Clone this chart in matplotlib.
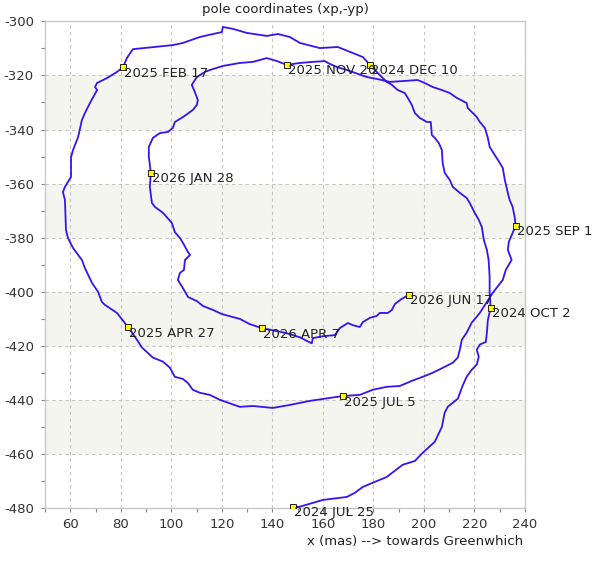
import matplotlib
matplotlib.use("Agg")
import matplotlib.pyplot as plt
from matplotlib.ticker import MultipleLocator

plt.rcParams["axes.unicode_minus"] = False

# ---- data (mas) ----
xp = [148.1, 150.9, 160.0, 169.5, 172.6, 175.8, 185.3, 191.6, 196.4, 199.5, 204.3, 207.1, 208.2, 209.4,
      213.4, 215.3, 216.9, 218.9, 220.9, 221.7, 220.9, 222.1, 224.5, 224.9, 225.3, 226.4,
      226.0, 226.0, 225.6, 224.9, 223.7, 222.9, 221.7, 220.1, 218.1, 216.9, 214.2, 211.4, 210.2, 208.2,
      207.4, 207.1, 205.9, 204.3, 203.1, 202.7, 201.1, 198.3, 196.4, 195.2, 193.6, 192.4, 189.6, 187.3,
      185.3, 183.3, 179.8, 178.6,
      175.8, 170.7, 165.9, 158.8, 150.9, 146.9, 142.2, 137.8, 129.9, 124.4, 120.4, 120.0, 116.5, 111.3,
      104.6, 100.6, 84.8, 82.4, 80.9,
      78.5, 74.5, 70.6, 69.8, 70.6, 67.8, 65.8, 64.6, 63.1, 61.1, 60.3, 60.3, 57.9, 57.1, 57.9, 58.3,
      59.1, 61.1, 64.6, 65.8, 68.6, 71.0, 72.5, 73.7, 78.5, 81.6, 82.8,
      85.6, 88.4, 92.7, 96.7, 99.4, 101.4, 104.6, 106.6, 108.5, 111.3, 115.3, 119.2, 127.1, 132.3,
      140.2, 146.9, 154.8, 160.0, 167.9,
      174.6, 179.7, 185.3, 190.4, 195.2, 199.5, 203.5, 207.4, 211.4, 213.4, 214.2, 215.0, 216.9, 218.9,
      222.1, 227.2, 231.2, 232.4, 234.7, 233.2, 233.6, 235.1, 236.3,
      235.9, 235.1, 233.9, 233.2, 232.0, 231.2, 230.0, 228.0, 226.0, 225.3, 224.1, 222.1, 220.9, 217.3,
      216.9, 213.0, 210.2, 207.1, 203.5, 200.3, 197.5, 191.6, 186.5, 181.3, 177.4, 169.5, 165.5, 162.0,
      160.8, 156.0, 150.9, 145.7,
      141.8, 137.8, 132.3, 127.1, 120.4, 115.3, 113.3, 110.1, 108.1, 109.3, 110.5, 110.1, 108.5, 104.6,
      101.4, 100.6, 98.7, 95.5, 92.7, 91.1, 91.1, 91.9,
      91.5, 92.3, 93.5, 96.7, 100.2, 101.4, 103.4, 104.6, 106.6, 107.4, 105.4, 105.0, 103.4, 102.6,
      104.6, 106.6, 110.1, 112.5, 116.5, 120.0, 124.4, 127.1, 131.0, 135.8,
      140.2, 145.7, 150.9, 154.0, 155.6, 156.0, 160.0, 164.7, 166.7, 169.9, 171.8, 174.6, 175.8, 178.6,
      181.3, 182.5, 185.7, 187.3, 188.5, 191.2, 194.0]

yp = [-479.5, -479.4, -476.9, -475.8, -474.3, -472.1, -468.4, -463.9, -462.5, -459.5, -455.4, -449.9, -444.7, -442.5,
      -439.5, -434.7, -431.4, -428.8, -426.9, -424.0, -421.4, -419.5, -418.5, -415.2, -410.4, -405.9,
      -400.4, -394.5, -388.2, -384.5, -380.8, -376.0, -373.4, -370.8, -367.1, -365.3, -363.4, -361.2, -358.6, -356.0,
      -352.3, -347.6, -345.0, -343.1, -342.0, -337.2, -337.2, -335.7, -333.9, -330.9, -328.3, -326.5, -325.4, -323.5,
      -322.4, -320.6, -317.3, -316.1,
      -313.2, -311.3, -309.5, -309.9, -308.0, -305.8, -304.7, -305.4, -304.3, -302.8, -302.1, -304.0, -304.7, -305.8,
      -308.0, -308.8, -310.3, -313.6, -316.9,
      -318.7, -321.0, -322.8, -324.3, -325.4, -330.2, -333.9, -336.5, -342.8, -347.6, -350.2, -357.5, -361.2, -363.1, -366.1, -377.1,
      -380.1, -383.8, -388.2, -391.2, -396.7, -400.0, -403.7, -404.8, -407.8, -411.5, -413.0,
      -416.6, -420.6, -424.3, -425.8, -428.0, -431.4, -432.2, -433.7, -436.2, -437.3, -438.1, -439.9, -442.5, -442.2,
      -442.9, -441.8, -440.3, -439.6, -438.5,
      -438.1, -436.2, -435.1, -434.8, -432.9, -431.4, -429.9, -428.1, -426.2, -424.3, -421.4, -417.7, -415.1, -411.4,
      -407.8, -400.4, -395.6, -391.9, -388.2, -384.5, -381.5, -378.2, -375.6,
      -372.3, -368.6, -366.0, -363.4, -358.6, -354.2, -352.3, -349.4, -346.4, -343.1, -339.4, -337.2, -335.4, -332.0,
      -330.2, -328.3, -326.5, -325.4, -324.3, -322.8, -321.7, -322.1, -322.4, -321.3, -320.6, -318.0, -316.9, -315.4,
      -314.7, -315.0, -315.4, -316.1,
      -314.7, -313.6, -315.0, -315.4, -316.5, -318.0, -318.7, -320.6, -323.5, -326.1, -329.1, -330.9, -332.8, -335.4,
      -337.2, -339.4, -340.9, -341.3, -343.1, -346.4, -350.1, -356.0,
      -361.2, -367.1, -368.6, -370.8, -374.5, -377.9, -380.1, -381.9, -385.3, -386.4, -388.2, -391.9, -393.0, -395.6,
      -398.6, -401.9, -403.4, -405.2, -406.7, -408.2, -409.3, -410.0, -411.9, -413.4,
      -414.2, -415.3, -416.8, -418.3, -419.0, -417.1, -416.4, -416.0, -413.4, -411.5, -412.3, -413.0, -411.2, -409.6,
      -408.9, -407.8, -407.8, -406.7, -404.5, -402.6, -401.1]

date_labels = ["2024 JUL 25", "2024 OCT 2", "2024 DEC 10", "2025 FEB 17", "2025 APR 27", "2025 JUL 5",
               "2025 SEP 1", "2025 NOV 20", "2026 JAN 28", "2026 APR 7", "2026 JUN 17"]
date_x = [148.1, 226.4, 178.6, 80.9, 82.8, 167.9, 236.3, 145.7, 91.9, 135.8, 194.0]
date_y = [-479.5, -405.9, -316.1, -316.9, -413.0, -438.5, -375.6, -316.1, -356.0, -413.4, -401.1]

x_range = (50, 240)
y_range = (-480, -300)
title = "pole coordinates (xp,-yp)"
xlabel = "x (mas) --> towards Greenwhich"

FS = 9.5

# ---- figure ----
fig = plt.figure(figsize=(5.96, 5.65), dpi=100)
ax = fig.add_axes([45 / 596, 1 - 508.3 / 565, 480 / 596, 487 / 565])
ax.set_xlim(*x_range)
ax.set_ylim(*y_range)

# alternating bands
for y0 in range(-460, -300, 40):
    ax.axhspan(y0, y0 + 20, color="#f5f5f0", zorder=0, lw=0)

ax.set_axisbelow(True)
ax.xaxis.set_major_locator(MultipleLocator(20))
ax.xaxis.set_minor_locator(MultipleLocator(10))
ax.yaxis.set_major_locator(MultipleLocator(20))
ax.yaxis.set_minor_locator(MultipleLocator(10))
ax.grid(True, which="major", color="#c4c4c4", linestyle=(0, (3, 3)), linewidth=0.8)

xt = [v for v in range(60, 241, 20)]
ax.set_xticks(xt)
ax.set_xticklabels([str(v) for v in xt])

for s in ax.spines.values():
    s.set_color("#c8c8c8")
    s.set_linewidth(1.0)

ax.tick_params(which="both", direction="out", color="#888888", width=0.8, labelsize=FS,
               labelcolor="#333333")
ax.tick_params(which="major", length=3)
ax.tick_params(which="minor", length=3)
ax.tick_params(axis="y", which="major", pad=5)
ax.tick_params(axis="x", which="major", pad=4)

ax.plot(xp, yp, color="#3a12f0", lw=1.3, zorder=3, solid_joinstyle="round")
ax.plot(date_x, date_y, linestyle="none", marker="s", ms=4, mfc="#ffff00", mec="black",
        mew=0.6, zorder=4)
for lab, x, y in zip(date_labels, date_x, date_y):
    ax.annotate(lab, (x, y), xytext=(1, -9.5), textcoords="offset pixels",
                ha="left", va="baseline", fontsize=FS, color="#222222", zorder=5,
                annotation_clip=False)

fig.text(285 / 596, 1 - 9 / 565, title, ha="center", va="center", fontsize=FS, color="#222222")
fig.text(523 / 596, 1 - 542 / 565, xlabel, ha="right", va="center", fontsize=FS, color="#222222")

fig.savefig("out.png", dpi=100)
